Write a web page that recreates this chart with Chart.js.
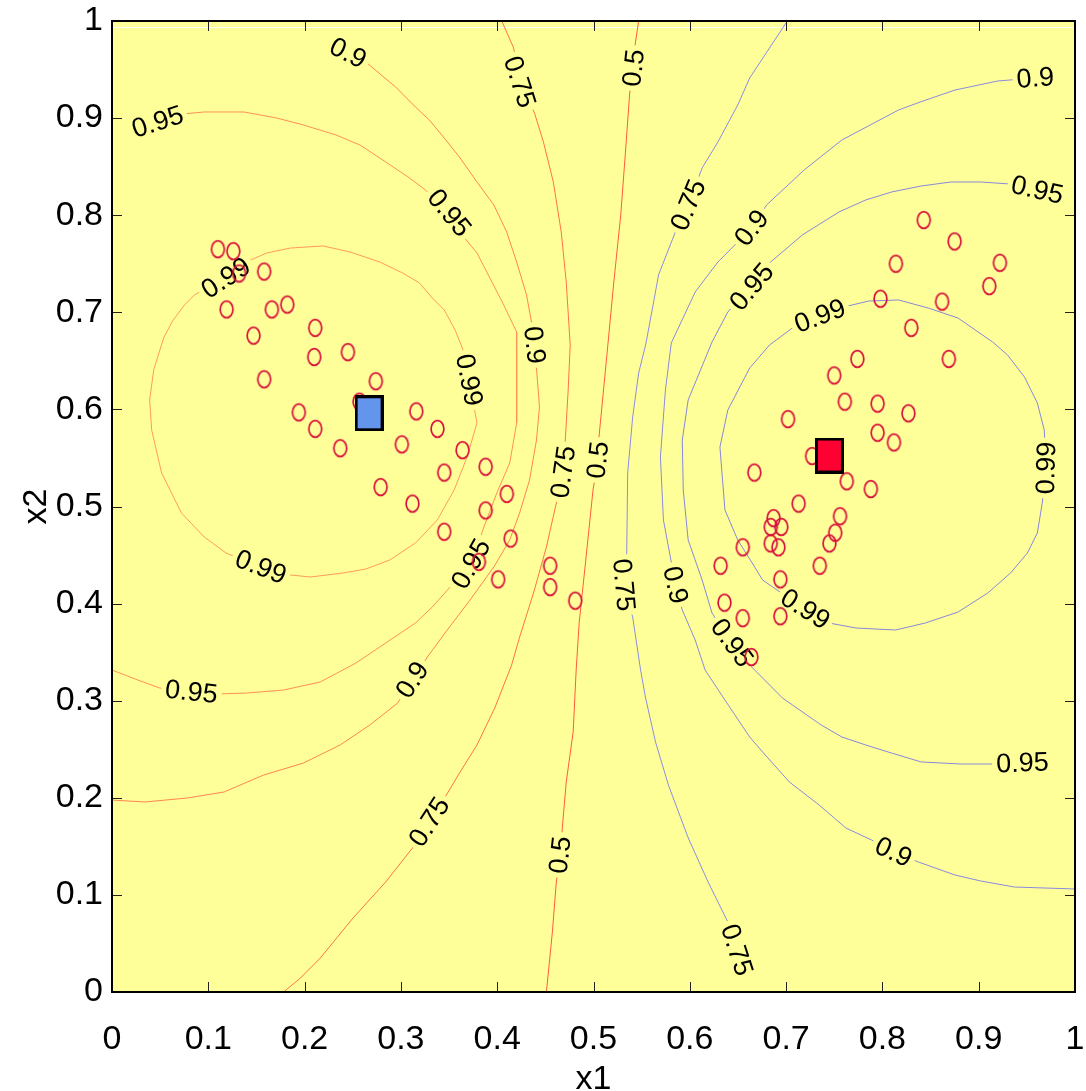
<!DOCTYPE html>
<html>
<head>
<meta charset="utf-8">
<title>Contour plot</title>
<script src="https://cdn.jsdelivr.net/npm/chart.js@4.4.1/dist/chart.umd.min.js"></script>
<style>
  html, body { margin: 0; padding: 0; background: #fff; }
</style>
</head>
<body>
<canvas id="contourChart" width="1086" height="1091"></canvas>
<script>
// axis ticks
const tickValues = [0, 0.1, 0.2, 0.3, 0.4, 0.5, 0.6, 0.7, 0.8, 0.9, 1];
const tickLabels = ['0', '0.1', '0.2', '0.3', '0.4', '0.5', '0.6', '0.7', '0.8', '0.9', '1'];

// training samples (x1, x2)
const samples = [
  [0.110, 0.765], [0.126, 0.763], [0.132, 0.740], [0.158, 0.742], [0.119, 0.703],
  [0.166, 0.703], [0.182, 0.708], [0.147, 0.676], [0.211, 0.684], [0.210, 0.654],
  [0.245, 0.659], [0.158, 0.631], [0.274, 0.629], [0.257, 0.608], [0.194, 0.597],
  [0.211, 0.580], [0.316, 0.598], [0.237, 0.560], [0.301, 0.564], [0.338, 0.580],
  [0.364, 0.558], [0.345, 0.535], [0.388, 0.541], [0.279, 0.520], [0.312, 0.503],
  [0.410, 0.513], [0.388, 0.496], [0.345, 0.474], [0.414, 0.467], [0.381, 0.443],
  [0.401, 0.425], [0.455, 0.439], [0.455, 0.417], [0.481, 0.403],
  [0.843, 0.795], [0.875, 0.773], [0.814, 0.750], [0.922, 0.751], [0.911, 0.727],
  [0.798, 0.714], [0.862, 0.711], [0.830, 0.684], [0.774, 0.652], [0.869, 0.652],
  [0.750, 0.635], [0.761, 0.608], [0.795, 0.606], [0.827, 0.596], [0.702, 0.590],
  [0.795, 0.576], [0.812, 0.566], [0.727, 0.552], [0.667, 0.535], [0.763, 0.526],
  [0.788, 0.518], [0.713, 0.503], [0.756, 0.490], [0.687, 0.488], [0.684, 0.479],
  [0.695, 0.479], [0.751, 0.473], [0.745, 0.462], [0.684, 0.462], [0.692, 0.458],
  [0.655, 0.458], [0.735, 0.439], [0.632, 0.439], [0.694, 0.425], [0.636, 0.401],
  [0.655, 0.385], [0.694, 0.387], [0.664, 0.345]
];

// class centres
const centerBlue = [0.267, 0.596];
const centerRed = [0.745, 0.5525];

// contour lines, left group
const left99 = [
  [0.0536, 0.6735], [0.0628, 0.6910], [0.0752, 0.7075], [0.0855, 0.7178], [0.1184, 0.7353],
  [0.1370, 0.7508], [0.1607, 0.7611], [0.1854, 0.7662], [0.2194, 0.7683], [0.2472, 0.7621],
  [0.2781, 0.7518], [0.3018, 0.7405], [0.3193, 0.7302], [0.3326, 0.7147], [0.3450, 0.7024],
  [0.3563, 0.6818], [0.3646, 0.6612], [0.3708, 0.6303], [0.3790, 0.5860], [0.3687, 0.5510],
  [0.3553, 0.5170], [0.3378, 0.4861], [0.3151, 0.4624], [0.2884, 0.4449], [0.2636, 0.4356],
  [0.2400, 0.4315], [0.2060, 0.4274], [0.1751, 0.4305], [0.1545, 0.4377], [0.1184, 0.4521],
  [0.0958, 0.4686], [0.0721, 0.4933], [0.0515, 0.5345], [0.0412, 0.5788], [0.0391, 0.6097],
  [0.0433, 0.6406], [0.0536, 0.6735]
];
const left95 = [
  [0.0474, 0.8960], [0.0731, 0.9042], [0.0958, 0.9063], [0.1370, 0.9063], [0.1710, 0.9001],
  [0.1988, 0.8929], [0.2327, 0.8826], [0.2575, 0.8723], [0.2842, 0.8548], [0.3090, 0.8383],
  [0.3254, 0.8260], [0.3502, 0.8023], [0.3635, 0.7796], [0.3790, 0.7611], [0.3924, 0.7353],
  [0.4068, 0.7075], [0.4202, 0.6797], [0.4202, 0.6375], [0.4202, 0.5860], [0.4130, 0.5448],
  [0.3996, 0.5139], [0.3862, 0.4789], [0.3728, 0.4408], [0.3512, 0.4171], [0.3326, 0.3965],
  [0.3151, 0.3800], [0.2842, 0.3594], [0.2533, 0.3388], [0.2163, 0.3193], [0.1782, 0.3110],
  [0.1401, 0.3079], [0.1081, 0.3069], [0.0824, 0.3090], [0.0494, 0.3131], [0.0268, 0.3213],
  [0.0000, 0.3316]
];
const left90 = [
  [0.2451, 0.9670], [0.2636, 0.9578], [0.2945, 0.9320], [0.3151, 0.9114], [0.3296, 0.8980],
  [0.3450, 0.8795], [0.3615, 0.8589], [0.3790, 0.8342], [0.3965, 0.8105], [0.4099, 0.7827],
  [0.4202, 0.7518], [0.4305, 0.7178], [0.4356, 0.6900], [0.4387, 0.6663], [0.4408, 0.6426],
  [0.4439, 0.6025], [0.4408, 0.5685], [0.4336, 0.5273], [0.4233, 0.4933], [0.4130, 0.4655],
  [0.3965, 0.4377], [0.3718, 0.4037], [0.3481, 0.3728], [0.3275, 0.3450], [0.3120, 0.3213],
  [0.2966, 0.2976], [0.2678, 0.2750], [0.2369, 0.2544], [0.1988, 0.2358], [0.1576, 0.2235],
  [0.1164, 0.2060], [0.0783, 0.1998], [0.0340, 0.1957], [0.0000, 0.1977]
];
const left75 = [
  [0.4047, 1.0000], [0.4171, 0.9722], [0.4233, 0.9372], [0.4387, 0.9053], [0.4480, 0.8754],
  [0.4583, 0.8342], [0.4665, 0.7827], [0.4717, 0.7312], [0.4758, 0.6663], [0.4737, 0.6200],
  [0.4707, 0.5685], [0.4686, 0.5355], [0.4614, 0.5036], [0.4511, 0.4583], [0.4377, 0.4109],
  [0.4233, 0.3656], [0.4150, 0.3368], [0.3975, 0.2925], [0.3790, 0.2544], [0.3615, 0.2266],
  [0.3429, 0.1957], [0.3296, 0.1751], [0.3120, 0.1483], [0.2842, 0.1133], [0.2503, 0.0762],
  [0.2163, 0.0350], [0.1957, 0.0144], [0.1782, 0.0000]
];
const left50 = [
  [0.5469, 1.0000], [0.5427, 0.9722], [0.5417, 0.9516], [0.5376, 0.9259], [0.5335, 0.8692],
  [0.5283, 0.8002], [0.5211, 0.7312], [0.5149, 0.6663], [0.5057, 0.5716], [0.5046, 0.5479],
  [0.4995, 0.5170], [0.4923, 0.4480], [0.4851, 0.3800], [0.4820, 0.3316], [0.4789, 0.2678],
  [0.4717, 0.2163], [0.4676, 0.1689], [0.4655, 0.1411], [0.4614, 0.1133], [0.4573, 0.0618],
  [0.4511, 0.0000]
];

// contour lines, right group
const right75 = [
  [0.7013, 1.0000], [0.6622, 0.9413], [0.6498, 0.9135], [0.6292, 0.8754], [0.6128, 0.8486],
  [0.5984, 0.8105], [0.5850, 0.7827], [0.5675, 0.7384], [0.5613, 0.7044], [0.5541, 0.6663],
  [0.5469, 0.6375], [0.5407, 0.5922], [0.5355, 0.5345], [0.5345, 0.4521], [0.5314, 0.4192],
  [0.5407, 0.3862], [0.5489, 0.3316], [0.5541, 0.3028], [0.5644, 0.2575], [0.5778, 0.2132],
  [0.5984, 0.1586], [0.6190, 0.1133], [0.6395, 0.0721], [0.6488, 0.0433]
];
const right90 = [
  [0.9588, 0.9413], [0.9197, 0.9382], [0.8754, 0.9289], [0.8393, 0.9166], [0.8167, 0.9083],
  [0.7580, 0.8775], [0.7188, 0.8466], [0.6797, 0.8105], [0.6643, 0.7868], [0.6498, 0.7724],
  [0.6292, 0.7518], [0.6056, 0.7209], [0.5808, 0.6684], [0.5747, 0.6200], [0.5695, 0.5510],
  [0.5726, 0.4861], [0.5798, 0.4480], [0.5850, 0.4192], [0.5922, 0.3934], [0.6056, 0.3625],
  [0.6159, 0.3316], [0.6365, 0.3007], [0.6622, 0.2626], [0.6756, 0.2472], [0.7034, 0.2163],
  [0.7343, 0.1926], [0.7621, 0.1689], [0.7889, 0.1565], [0.8115, 0.1442], [0.8373, 0.1339],
  [0.8754, 0.1205], [0.9022, 0.1143], [0.9372, 0.1081], [1.0000, 0.1061]
];
const right95 = [
  [0.9609, 0.8260], [0.9331, 0.8321], [0.9022, 0.8342], [0.8713, 0.8342], [0.8404, 0.8301],
  [0.8095, 0.8239], [0.7827, 0.8157], [0.7549, 0.8033], [0.7168, 0.7796], [0.6828, 0.7508],
  [0.6643, 0.7261], [0.6395, 0.7003], [0.6231, 0.6694], [0.5983, 0.6097], [0.5922, 0.5685],
  [0.5932, 0.5170], [0.5983, 0.4655], [0.6128, 0.4243], [0.6231, 0.3903], [0.6437, 0.3594],
  [0.6643, 0.3347], [0.6962, 0.3028], [0.7364, 0.2750], [0.7580, 0.2626], [0.7827, 0.2544],
  [0.8095, 0.2461], [0.8404, 0.2369], [0.8816, 0.2348], [0.9166, 0.2348], [0.9454, 0.2358]
];
const right99 = [
  [0.7353, 0.6962], [0.7600, 0.7055], [0.7858, 0.7116], [0.8167, 0.7127], [0.8476, 0.7044],
  [0.8785, 0.6941], [0.9145, 0.6694], [0.9300, 0.6560], [0.9475, 0.6334], [0.9609, 0.6066],
  [0.9681, 0.5788], [0.9701, 0.5397], [0.9660, 0.5036], [0.9609, 0.4727], [0.9506, 0.4521],
  [0.9331, 0.4315], [0.9094, 0.4109], [0.8785, 0.3913], [0.8445, 0.3800], [0.8136, 0.3728],
  [0.7724, 0.3749], [0.7446, 0.3800], [0.7199, 0.3944], [0.6952, 0.4109], [0.6756, 0.4243],
  [0.6674, 0.4377], [0.6498, 0.4655], [0.6365, 0.4964], [0.6313, 0.5613], [0.6395, 0.5994],
  [0.6622, 0.6426], [0.6828, 0.6663], [0.7065, 0.6838], [0.7353, 0.6962]
];

const plotYellow = '#ffff99';
const fontFamily = '"Liberation Sans", Arial, Helvetica, sans-serif';

// level text, line colour and which vertices carry a label
const contourSet = [
  { level: '0.99', points: left99, color: '#ff9a5e', labelAt: [4, 17, 28] },
  { level: '0.95', points: left95, color: '#ff9058', labelAt: [0, 11, 22, 32] },
  { level: '0.9', points: left90, color: '#ff8552', labelAt: [0, 13, 24] },
  { level: '0.75', points: left75, color: '#ff7248', labelAt: [2, 11, 21] },
  { level: '0.5', points: left50, color: '#ff5c3e', labelAt: [2, 9, 17] },
  { level: '0.75', points: right75, color: '#8c8ce4', labelAt: [5, 14, 23] },
  { level: '0.9', points: right90, color: '#8a8ae0', labelAt: [0, 8, 17, 28] },
  { level: '0.95', points: right95, color: '#8888dc', labelAt: [0, 10, 19, 29] },
  { level: '0.99', points: right99, color: '#8888da', labelAt: [0, 11, 22] }
];

const toXY = pts => pts.map(p => ({ x: p[0], y: p[1] }));

// marker images: open ellipse for samples, framed boxes for centres
function ellipseMarker(rx, ry, stroke, lw) {
  const c = document.createElement('canvas');
  c.width = Math.ceil(rx * 2 + lw * 2 + 2);
  c.height = Math.ceil(ry * 2 + lw * 2 + 2);
  const g = c.getContext('2d');
  g.strokeStyle = stroke;
  g.lineWidth = lw;
  g.beginPath();
  g.ellipse(c.width / 2, c.height / 2, rx, ry, 0, 0, Math.PI * 2);
  g.stroke();
  return c;
}

function boxMarker(w, h, fill) {
  const c = document.createElement('canvas');
  c.width = w;
  c.height = h;
  const g = c.getContext('2d');
  g.fillStyle = fill;
  g.fillRect(0, 0, w, h);
  g.strokeStyle = '#000';
  g.lineWidth = 3;
  g.strokeRect(1.5, 1.5, w - 3, h - 3);
  return c;
}

const sampleMarker = ellipseMarker(6.4, 8.3, '#d8103c', 1.7);
const blueBox = boxMarker(29, 36, '#6495ed');
const redBox = boxMarker(29, 36, '#ff0033');

const datasets = [
  {
    label: 'centres',
    data: toXY([centerBlue, centerRed]),
    pointStyle: [blueBox, redBox],
    pointRadius: 10,
    showLine: false
  },
  {
    label: 'samples',
    data: toXY(samples),
    pointStyle: sampleMarker,
    pointRadius: 8,
    showLine: false
  }
];
const sampleIndex = 1;

contourSet.forEach(c => {
  datasets.push({
    label: 'p = ' + c.level,
    data: toXY(c.points),
    showLine: true,
    borderColor: c.color,
    borderWidth: 1,
    pointRadius: 0,
    tension: 0,
    fill: false
  });
});

// yellow plot face
const facePlugin = {
  id: 'face',
  beforeDraw(chart) {
    const { ctx, chartArea: a } = chart;
    ctx.save();
    ctx.fillStyle = '#fff';
    ctx.fillRect(0, 0, chart.width, chart.height);
    ctx.fillStyle = plotYellow;
    ctx.fillRect(a.left, a.top, a.right - a.left, a.bottom - a.top);
    ctx.strokeStyle = '#fff';
    ctx.lineWidth = 1;
    ctx.beginPath();
    ctx.moveTo(a.left, a.top + 6.5);
    ctx.lineTo(a.right, a.top + 6.5);
    ctx.stroke();
    ctx.restore();
  }
};

// inline level labels, drawn over the lines and under the samples
const labelPlugin = {
  id: 'contourLabels',
  beforeDatasetDraw(chart, args) {
    if (args.index !== sampleIndex) return;
    const { ctx } = chart;
    const xs = chart.scales.x, ys = chart.scales.y;
    ctx.save();
    ctx.font = '27px ' + fontFamily;
    ctx.textAlign = 'center';
    ctx.textBaseline = 'middle';
    contourSet.forEach(c => {
      c.labelAt.forEach(i => {
        const p = c.points[i];
        const a = c.points[Math.max(i - 1, 0)];
        const b = c.points[Math.min(i + 1, c.points.length - 1)];
        const px = xs.getPixelForValue(p[0]);
        const py = ys.getPixelForValue(p[1]);
        let ang = Math.atan2(ys.getPixelForValue(b[1]) - ys.getPixelForValue(a[1]),
                             xs.getPixelForValue(b[0]) - xs.getPixelForValue(a[0]));
        if (ang > Math.PI / 2) ang -= Math.PI;
        if (ang < -Math.PI / 2) ang += Math.PI;
        const w = ctx.measureText(c.level).width;
        ctx.save();
        ctx.translate(px, py);
        ctx.rotate(ang);
        ctx.fillStyle = plotYellow;
        ctx.fillRect(-w / 2 - 4, -11, w + 8, 22);
        ctx.fillStyle = '#000';
        ctx.fillText(c.level, 0, 1);
        ctx.restore();
      });
    });
    ctx.restore();
  }
};

// box, inward ticks on all four sides and axis titles
const framePlugin = {
  id: 'frame',
  afterDraw(chart) {
    const { ctx, chartArea: a } = chart;
    const xs = chart.scales.x, ys = chart.scales.y;
    ctx.save();
    ctx.strokeStyle = '#222';
    ctx.lineWidth = 1;
    ctx.beginPath();
    tickValues.forEach(v => {
      const px = Math.round(xs.getPixelForValue(v)) + 0.5;
      const py = Math.round(ys.getPixelForValue(v)) + 0.5;
      ctx.moveTo(px, a.bottom); ctx.lineTo(px, a.bottom - 10);
      ctx.moveTo(px, a.top); ctx.lineTo(px, a.top + 10);
      ctx.moveTo(a.left, py); ctx.lineTo(a.left + 10, py);
      ctx.moveTo(a.right, py); ctx.lineTo(a.right - 10, py);
    });
    ctx.stroke();
    ctx.strokeStyle = '#000';
    ctx.lineWidth = 2;
    ctx.strokeRect(a.left, a.top, a.right - a.left, a.bottom - a.top);

    ctx.fillStyle = '#000';
    ctx.font = '34px ' + fontFamily;
    ctx.textAlign = 'center';
    ctx.textBaseline = 'alphabetic';
    ctx.fillText('x1', (a.left + a.right) / 2, a.bottom + 97);
    ctx.translate(a.left - 65, (a.top + a.bottom) / 2);
    ctx.rotate(-Math.PI / 2);
    ctx.fillText('x2', 0, -1);
    ctx.restore();
  }
};

const tickFont = { size: 34, family: fontFamily };

new Chart(document.getElementById('contourChart').getContext('2d'), {
  type: 'scatter',
  data: { datasets },
  options: {
    responsive: false,
    animation: false,
    layout: { padding: { top: 21, right: 3, left: 0, bottom: 0 } },
    plugins: {
      legend: { display: false },
      tooltip: { enabled: false }
    },
    scales: {
      x: {
        type: 'linear',
        min: 0,
        max: 1,
        afterBuildTicks: s => { s.ticks = tickValues.map(v => ({ value: v })); },
        afterFit: s => { s.height = 99; s.paddingLeft = 0; s.paddingRight = 0; },
        grid: { display: false, drawTicks: false },
        border: { display: false },
        ticks: {
          font: tickFont,
          color: '#000',
          padding: 27,
          maxRotation: 0,
          autoSkip: false,
          callback: (v, i) => tickLabels[i]
        }
      },
      y: {
        type: 'linear',
        min: 0,
        max: 1,
        afterBuildTicks: s => { s.ticks = tickValues.map(v => ({ value: v })); },
        afterFit: s => { s.width = 112; s.paddingTop = 0; s.paddingBottom = 0; },
        grid: { display: false, drawTicks: false },
        border: { display: false },
        ticks: {
          font: tickFont,
          color: '#000',
          padding: 9,
          autoSkip: false,
          callback: (v, i) => tickLabels[i]
        }
      }
    }
  },
  plugins: [facePlugin, labelPlugin, framePlugin]
});
</script>
</body>
</html>
